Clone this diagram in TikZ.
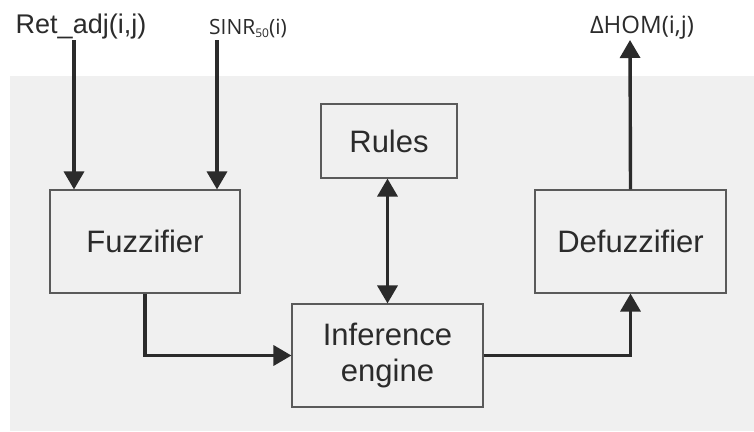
\documentclass[tikz,border=0pt]{standalone}
\usepackage{fontspec}
\setmainfont{Liberation Sans}
\newfontfamily\labelfont{Open Sans}
\usetikzlibrary{arrows.meta}
\definecolor{panel}{HTML}{F0F0F0}
\definecolor{ink}{HTML}{2B2B2B}
\definecolor{frame}{HTML}{5A5A5A}
\tikzset{
  block/.style={draw=frame, line width=1.1pt, fill=panel, text=ink,
    font=\fontsize{31}{36}\selectfont, align=center, inner sep=0pt},
  flow/.style={draw=ink, line width=3.4pt,
    -{Triangle[width=20pt,length=18pt]}},
  both/.style={draw=ink, line width=3.4pt,
    {Triangle[width=20pt,length=18pt]}-{Triangle[width=20pt,length=18pt]}},
  sig/.style={text=ink, inner sep=0pt, anchor=base}
}
\begin{document}
\begin{tikzpicture}[x=1pt,y=-1pt]
  \useasboundingbox (0,0) rectangle (754,431);
  \fill[white] (0,0) rectangle (754,431);
  \fill[panel] (10,76) rectangle (754,431);

  % processing blocks
  \node[block, minimum width=190pt, minimum height=103pt] (fuzz) at (145,241.5) {Fuzzifier};
  \node[block, minimum width=136pt, minimum height=74pt] (rules) at (389,141) {Rules};
  \node[block, minimum width=191pt, minimum height=103pt] (infer) at (387.5,355.5) {Inference\\[0pt]engine};
  \node[block, minimum width=191pt, minimum height=103pt] (defuzz) at (630.5,241.5) {Defuzzifier};

  % input and output signal names
  \node[sig, font=\fontsize{27}{30}\selectfont] (ret) at (81,33) {Ret\_adj(i,j)};
  \node[sig, font=\labelfont\fontsize{21}{24}\selectfont] (sinr) at (248,34)
    {SINR\raisebox{-0.3ex}{\fontsize{12}{12}\selectfont 50}(i)};
  \node[sig, font=\labelfont\fontsize{24}{28}\selectfont] (hom) at (642,33) {ΔHOM(i,j)};

  \coordinate (in1) at (74,40);
  \coordinate (in2) at (217,40);
  \coordinate (out) at (630,40);

  % connectors
  \draw[flow] (in1) -- (in1 |- fuzz.north);
  \draw[flow] (in2) -- (in2 |- fuzz.north);
  \draw[both] (rules.south -| infer.north) -- (infer.north);
  \draw[flow] (fuzz.south) |- (infer.west);
  \draw[flow] (infer.east) -| (defuzz.south);
  \draw[flow] (defuzz.north) -- (out);
\end{tikzpicture}
\end{document}
